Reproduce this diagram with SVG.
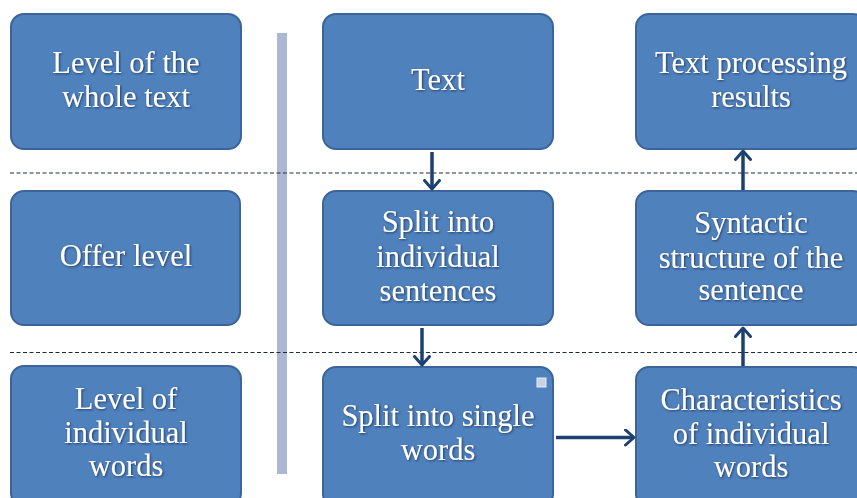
<svg xmlns="http://www.w3.org/2000/svg" width="857" height="498" viewBox="0 0 857 498">
<defs>
<filter id="glow" x="-10%" y="-20%" width="120%" height="140%">
<feDropShadow dx="1" dy="1" stdDeviation="1" flood-color="#1d3557" flood-opacity="0.9"/>
</filter>
<marker id="arr" viewBox="0 0 12 18" refX="10" refY="9" markerWidth="12" markerHeight="18" markerUnits="userSpaceOnUse" orient="auto">
<path d="M1.5,1.5 L10,9 L1.5,16.5" fill="none" stroke="#1C4072" stroke-width="3" stroke-linecap="round" stroke-linejoin="round"/>
</marker>
</defs>
<style>
.box{fill:#4F81BD;stroke:#3B659A;stroke-width:2}
.t{font-family:"Liberation Serif","Times New Roman",serif;font-size:30.5px;fill:#ffffff;text-anchor:middle;filter:url(#glow)}
.dash{stroke:#1E2A40;stroke-width:1.2;stroke-dasharray:4 2.5;fill:none}
.con{stroke:#1C4072;stroke-width:3.5;fill:none;marker-end:url(#arr)}
</style>
<rect width="857" height="498" fill="#ffffff"/>
<g id="guides">
<rect x="277" y="33" width="10" height="441" fill="#A8B8D5"/>
<line class="dash" x1="10" y1="173" x2="857" y2="173"/>
<line class="dash" x1="10" y1="352.5" x2="857" y2="352.5"/>
</g>
<g id="n-whole">
<rect class="box" x="11" y="14" width="230" height="135" rx="13"/>
<text class="t" x="126" y="73">Level  of the</text>
<text class="t" x="126" y="107">whole text</text>
</g>
<g id="n-offer">
<rect class="box" x="11" y="191" width="229" height="134" rx="13"/>
<text class="t" x="126" y="266">Offer level</text>
</g>
<g id="n-words">
<rect class="box" x="11" y="366" width="230" height="140" rx="13"/>
<text class="t" x="126" y="409">Level  of</text>
<text class="t" x="126" y="443">individual</text>
<text class="t" x="126" y="476">words</text>
</g>
<g id="n-text">
<rect class="box" x="323" y="14" width="230" height="135" rx="13"/>
<text class="t" x="438" y="90">Text</text>
</g>
<g id="n-sentences">
<rect class="box" x="323" y="191" width="230" height="134" rx="13"/>
<text class="t" x="438" y="232">Split into</text>
<text class="t" x="438" y="267">individual</text>
<text class="t" x="438" y="301">sentences</text>
</g>
<g id="n-single">
<rect class="box" x="323" y="367" width="230" height="140" rx="13"/>
<rect x="537" y="378" width="9" height="9" fill="#C9D2E3" stroke="#E8EDF5" stroke-width="1"/>
<text class="t" x="438" y="426">Split into single</text>
<text class="t" x="438" y="460">words</text>
</g>
<g id="n-results">
<rect class="box" x="636" y="14" width="230" height="135" rx="13"/>
<text class="t" x="751" y="73">Text processing</text>
<text class="t" x="751" y="107">results</text>
</g>
<g id="n-syntactic">
<rect class="box" x="636" y="191" width="230" height="134" rx="13"/>
<text class="t" x="751" y="233">Syntactic</text>
<text class="t" x="751" y="268">structure of the</text>
<text class="t" x="751" y="300">sentence</text>
</g>
<g id="n-characteristics">
<rect class="box" x="636" y="367" width="230" height="140" rx="13"/>
<text class="t" x="751" y="410">Characteristics</text>
<text class="t" x="751" y="444">of individual</text>
<text class="t" x="751" y="477">words</text>
</g>
<g id="connectors">
<line class="con" x1="432" y1="152" x2="432" y2="189"/>
<line class="con" x1="422" y1="328" x2="422" y2="365"/>
<line class="con" x1="556" y1="437.5" x2="634" y2="437.5"/>
<line class="con" x1="743" y1="366" x2="743" y2="328"/>
<line class="con" x1="743" y1="190" x2="743" y2="151"/>
</g>
</svg>
